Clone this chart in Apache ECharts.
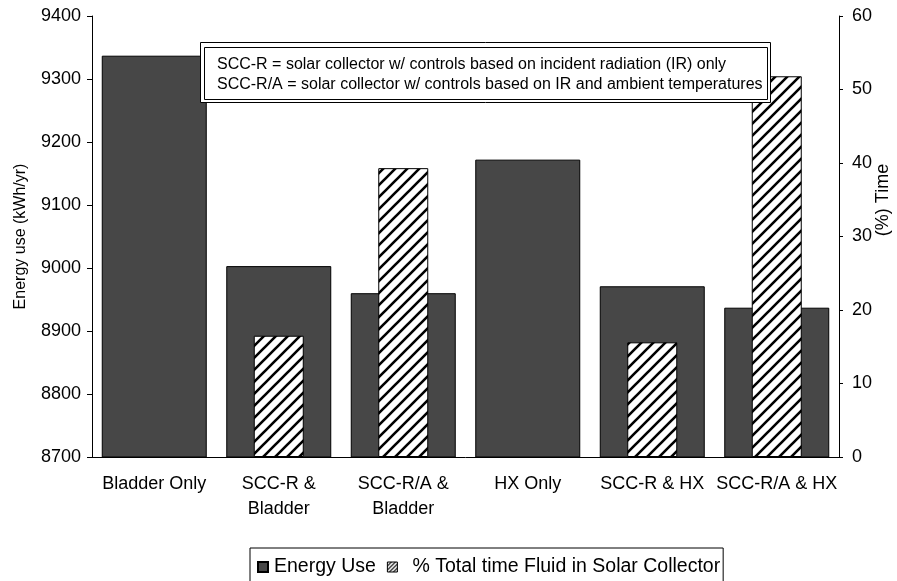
<!DOCTYPE html>
<html><head><meta charset="utf-8">
<script src="https://cdn.jsdelivr.net/npm/echarts/dist/echarts.min.js"></script>
<style>html,body{margin:0;padding:0;background:#fff}#c{width:897px;height:581px}</style>
</head><body><div id="c"></div>
<script>
const categories = ['Bladder Only', 'SCC-R &\nBladder', 'SCC-R/A &\nBladder', 'HX Only', 'SCC-R & HX', 'SCC-R/A & HX'];
const energyUse = [9337, 9003, 8960, 9172, 8971, 8937];
const pctTime = [null, 16.5, 39.3, null, 15.6, 51.8];
const leftTicks = { min: 8700, max: 9400, interval: 100 };
const rightTicks = { min: 0, max: 60, interval: 10 };
const seriesNames = ['Energy Use', '% Total time Fluid in Solar Collector'];
const leftAxisName = 'Energy use (kWh/yr)';
const rightAxisName = '(%) Time';
const noteLines = [
  'SCC-R = solar collector w/ controls based on incident radiation (IR) only',
  'SCC-R/A = solar collector w/ controls based on IR and ambient temperatures'
];

const FONT = '"Liberation Sans", Arial, Helvetica, sans-serif';

function hatch(s, w) {
  const c = document.createElement('canvas'); c.width = s; c.height = s;
  const g = c.getContext('2d');
  g.fillStyle = '#fff'; g.fillRect(0, 0, s, s);
  g.strokeStyle = '#000'; g.lineWidth = w;
  g.beginPath();
  g.moveTo(-2, s + 2); g.lineTo(s + 2, -2);
  g.moveTo(-3, 3); g.lineTo(3, -3);
  g.moveTo(s - 3, s + 3); g.lineTo(s + 3, s - 3);
  g.stroke();
  return c;
}

const chart = echarts.init(document.getElementById('c'), null, { renderer: 'canvas' });
const axisColor = '#000';
const option = {
  animation: false,
  backgroundColor: '#fff',
  textStyle: { fontFamily: FONT, color: '#000' },
  grid: { left: 92, right: 58, top: 16, bottom: 124 },
  xAxis: [
    {
      type: 'category', data: categories,
      axisLine: { lineStyle: { color: axisColor, width: 1 } },
      axisTick: { length: 5, lineStyle: { color: axisColor } },
      axisLabel: { interval: 0, hideOverlap: false, fontSize: 18, color: '#000', margin: 15, lineHeight: 25, fontFamily: FONT }
    },
    { type: 'category', data: categories, show: false }
  ],
  yAxis: [
    {
      type: 'value', position: 'left',
      min: leftTicks.min, max: leftTicks.max, interval: leftTicks.interval,
      axisLine: { show: true, lineStyle: { color: axisColor } },
      axisTick: { show: true, length: 5, lineStyle: { color: axisColor } },
      splitLine: { show: false },
      axisLabel: { fontSize: 18, color: '#000', margin: 11, fontFamily: FONT, formatter: v => String(v) },
      name: leftAxisName, nameLocation: 'middle', nameGap: 63,
      nameTextStyle: { fontSize: 16, color: '#000', fontFamily: FONT }
    },
    {
      type: 'value', position: 'right',
      min: rightTicks.min, max: rightTicks.max, interval: rightTicks.interval,
      axisLine: { show: true, lineStyle: { color: axisColor } },
      axisTick: { show: true, length: 4, lineStyle: { color: axisColor } },
      splitLine: { show: false },
      axisLabel: { fontSize: 18, color: '#000', margin: 13, fontFamily: FONT, formatter: v => String(v) }
    }
  ],
  legend: {
    left: 250, top: 548,
    padding: [9, 3, 12, 7],
    itemWidth: 10, itemHeight: 10, itemGap: 11,
    borderColor: '#000', borderWidth: 1, borderRadius: 0,
    backgroundColor: '#fff',
    textStyle: { fontSize: 19.5, color: '#000', fontFamily: FONT, padding: [0, 0, 0, 1] },
    data: [
      { name: seriesNames[0], icon: 'rect' },
      { name: seriesNames[1], icon: 'rect', textStyle: { padding: [0, 0, 0, 10] }, itemStyle: { color: { image: hatch(4, 1.2), repeat: 'repeat' }, borderColor: '#000', borderWidth: 1 } }
    ]
  },
  series: [
    {
      type: 'bar', name: seriesNames[0], data: energyUse,
      xAxisIndex: 0, yAxisIndex: 0, barWidth: 105,
      itemStyle: { color: '#474747', borderColor: '#000', borderWidth: 1 },
      z: 2
    },
    {
      type: 'bar', name: seriesNames[1], data: pctTime,
      xAxisIndex: 1, yAxisIndex: 1, barWidth: 50,
      itemStyle: { color: { image: hatch(12, 2.6), repeat: 'repeat' }, borderColor: '#000', borderWidth: 1 },
      z: 3
    }
  ],
  graphic: [
    { type: 'rect', z: 100, shape: { x: 200.5, y: 42.5, width: 570, height: 60 }, style: { fill: '#fff', stroke: '#000', lineWidth: 1 } },
    { type: 'rect', z: 101, shape: { x: 204.5, y: 47.5, width: 563, height: 52 }, style: { fill: '#fff', stroke: '#000', lineWidth: 1 } },
    { type: 'text', z: 102, x: 217, y: 65, style: { text: noteLines[0], fontSize: 16, fontFamily: FONT, fill: '#000', verticalAlign: 'middle', align: 'left' } },
    { type: 'text', z: 102, x: 217, y: 84.5, style: { text: noteLines[1], fontSize: 16, fontFamily: FONT, fill: '#000', verticalAlign: 'middle', align: 'left' } },
    { type: 'text', z: 102, x: 883, y: 200, rotation: Math.PI / 2, style: { text: rightAxisName, fontSize: 18, fontFamily: FONT, fill: '#000', verticalAlign: 'middle', align: 'center' } }
  ]
};
chart.setOption(option);
</script>
</body></html>
